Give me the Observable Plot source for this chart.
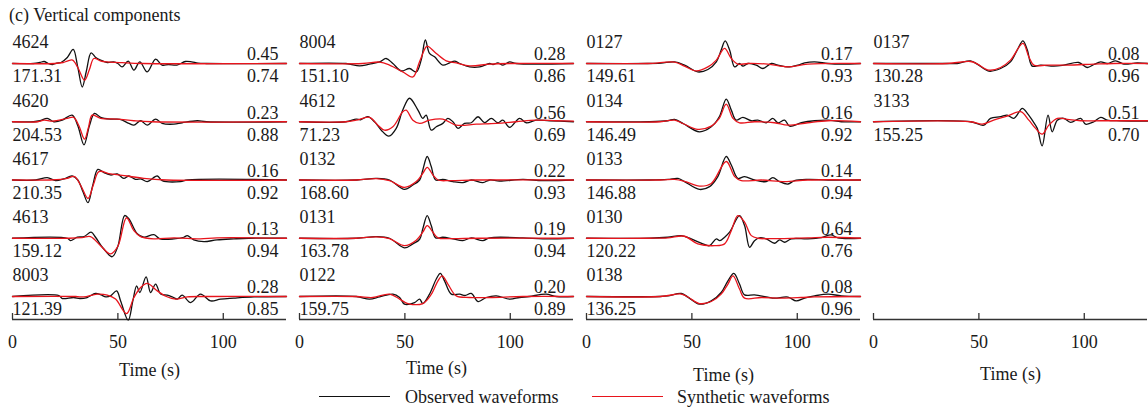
<!DOCTYPE html>
<html><head><meta charset="utf-8">
<script src="https://cdn.jsdelivr.net/npm/d3@7"></script>
<script src="https://cdn.jsdelivr.net/npm/@observablehq/plot@0.6"></script>
<style>
body{margin:0;background:#fff;font-family:"Liberation Serif","Times New Roman",serif;color:#1a1a1a;}
#wrap{position:relative;width:1148px;height:410px;overflow:hidden}
#title{position:absolute;left:9px;top:4px;font-size:18px;line-height:22px;}
#chart{position:absolute;left:0;top:27px;}
#legend{position:absolute;left:0;top:386px;width:1148px;height:22px;font-size:18px;}
.sw{position:absolute;top:10px;width:71px;height:0;border-top:1.3px solid}
.lt{position:absolute;top:0;line-height:22px;white-space:nowrap}
</style></head>
<body>
<div id="wrap">
  <div id="title">(c) Vertical components</div>
  <div id="chart"></div>
  <div id="legend">
    <div class="sw" style="left:319px;border-color:#111"></div>
    <div class="lt" style="left:405px">Observed waveforms</div>
    <div class="sw" style="left:592px;border-color:#e8141c"></div>
    <div class="lt" style="left:677px">Synthetic waveforms</div>
  </div>
</div>
<script>
// ---------- data ----------
const STATIONS  = ["4624","4620","4617","4613","8003","8004","4612","0132","0131","0122","0127","0134","0133","0130","0138","0137","3133"];
const COLUMN    = [0,0,0,0,0, 1,1,1,1,1, 2,2,2,2,2, 3,3];
const ROW       = [0,1,2,3,4, 0,1,2,3,4, 0,1,2,3,4, 0,1];
const DISTANCES = ["171.31","204.53","210.35","159.12","121.39","151.10","71.23","168.60","163.78","159.75","149.61","146.49","146.88","120.22","136.25","130.28","155.25"];
const UPPER     = ["0.45","0.23","0.16","0.13","0.28","0.28","0.56","0.22","0.19","0.20","0.17","0.16","0.14","0.64","0.08","0.08","0.51"];
const LOWER     = ["0.74","0.88","0.92","0.94","0.85","0.86","0.69","0.93","0.94","0.89","0.93","0.92","0.94","0.76","0.96","0.96","0.70"];
const X_TICKS   = [0, 50, 100];
const T_MAX     = 130;

// waveforms: flat [time (s), amplitude, time, amplitude, ...]
const obs4624 = [0,0, 10,0, 13,0.05, 15,0.1, 17,0, 19,-0.05, 21,0.02, 23,0.05, 26,0.3, 28.8,0.7, 31,-0.2, 33.1,-1.17, 35,-0.4, 37.3,0.53, 39.5,0.3, 41.8,0.17, 45,0.05, 48,0.08, 50,0, 52,-0.17, 54.9,0.12, 57.6,-0.33, 60.4,0.08, 63.9,-0.42, 67.9,0.22, 71,-0.08, 74,-0.05, 78,-0.08, 82,0.1, 85,0.08, 88,0.02, 92,0, 130,0];
const syn4624 = [0,0, 20,0, 24,0.05, 26,0.12, 28.5,0.17, 31,-0.2, 34.2,-0.83, 36.5,-0.3, 38.6,0.25, 42,0.12, 45,0.08, 52,0.04, 62,0, 130,0];
const obs4620 = [0,0, 10,0, 13,0.05, 16.5,0.17, 19.6,0, 23.6,0.08, 28.3,0.33, 31,-0.2, 33.9,-1.15, 36.5,-0.2, 38.9,0.42, 41.8,0.22, 46.5,0.13, 51,0.12, 55.2,-0.08, 57.6,-0.17, 60.8,0.05, 63.9,-0.17, 67.9,0.13, 71,-0.08, 76.6,-0.12, 80.5,-0.05, 87.7,0.05, 92,0, 130,0];
const syn4620 = [0,0, 12,0, 15,0.08, 19,0.03, 26,0.17, 29,0.22, 31.5,-0.2, 34.2,-0.87, 36,-0.3, 37.8,0.33, 41.8,0.17, 49.7,0.13, 57.6,0.05, 66,0, 130,0];
const obs4617 = [0,0, 11,0, 16.5,0.12, 20.4,-0.03, 24.3,0.05, 28.3,0.2, 31,0, 33.5,-0.6, 35.8,-1.13, 38,-0.3, 40.5,0.53, 43.4,0.37, 46.5,0.25, 49.7,0.3, 52.8,0.08, 55.2,0.2, 58.4,0.03, 61,0.05, 63.9,-0.08, 68.7,0.2, 71,-0.03, 79.7,-0.08, 83,0, 130,0];
const syn4617 = [0,0, 18,0, 23,0.03, 26,0.08, 29.4,0.17, 32.5,-0.3, 35.8,-0.92, 38.5,-0.2, 41,0.42, 46.5,0.3, 54.4,0.2, 62.3,0.08, 73,0, 130,0];
const obs4613 = [0,0, 26,0, 27.5,-0.12, 30.7,0.05, 33.9,0.08, 37.3,0.3, 39.4,0.05, 43,-0.5, 47.3,-0.92, 50,-0.4, 53.2,1.13, 55.2,0.97, 59.2,0.22, 62.3,0.05, 67.1,0.18, 70,-0.03, 76.6,-0.03, 81.3,0.05, 82.9,0.13, 86,-0.08, 90.8,-0.17, 97,-0.08, 105,-0.03, 112,0, 130,0];
const syn4613 = [0,0, 27,0, 33,0.03, 37,0.08, 41.8,-0.37, 46.5,-0.78, 50,-0.4, 54.1,1.02, 57.6,0.38, 60.8,0.08, 67.1,-0.03, 76.6,0.02, 89,-0.03, 97,0.02, 130,0];
const obs8003 = [0,0, 22,0.05, 23.6,-0.1, 29,-0.05, 32,-0.1, 35.4,-0.05, 39.4,0.15, 42,0.08, 44.3,-0.02, 46.5,0.03, 49.4,0.28, 51.3,-0.22, 54.9,-1.18, 57.1,-0.22, 58.9,0.53, 60.4,0.2, 63.4,0.98, 65.5,0.2, 67.9,0.62, 70.3,0.12, 73.4,0.07, 75.8,-0.02, 78.2,-0.13, 80.5,0.07, 84.5,-0.3, 89.2,0.12, 94,-0.22, 98.7,-0.13, 105,-0.08, 114.6,-0.02, 130,0];
const syn8003 = [0,0, 30,0, 33.8,-0.02, 40.2,0.12, 45,0.07, 48.9,-0.13, 54.1,-0.85, 57.6,-0.05, 60.8,0.45, 63.9,0.65, 68.7,0.28, 73,0, 77.4,-0.13, 82.9,-0.02, 92.4,0, 130,0];
const obs8004 = [0,0, 22,0, 28.5,-0.12, 33.2,-0.03, 38,0.08, 41.1,0.25, 44.3,0, 48.3,-0.37, 52.2,-0.25, 55.4,-0.42, 57.8,0.2, 59.7,1.17, 61.7,0.5, 64.1,0.33, 68,-0.08, 71,0.02, 73.6,0.12, 76,0, 80.7,-0.17, 85.5,-0.17, 90.2,0, 91.8,-0.05, 94.1,0.03, 96.5,-0.08, 99.7,0.08, 102.8,0, 130,0];
const syn8004 = [0,0, 30,0, 38,0.07, 42.7,-0.08, 49,-0.42, 53.8,-0.67, 57,0.1, 60.1,0.83, 61,0.85, 64.9,0.5, 69.6,0.13, 74.4,0.03, 80.7,-0.12, 90.2,-0.03, 100,0, 130,0];
const obs4612 = [0,0, 22,0, 26.9,0.13, 29,0.1, 32.4,0.25, 35.6,0, 38.8,-0.42, 42.4,-0.72, 45.9,-0.33, 49,0.58, 52.2,1.17, 56.2,0.58, 58.5,0.17, 60.1,0.33, 62.5,-0.42, 64.9,-0.25, 68,-0.08, 70.4,0.17, 72.8,0, 75.2,-0.33, 78.3,-0.08, 81.5,-0.05, 84.7,0.25, 87.8,-0.05, 91,0.17, 94.1,-0.05, 96.5,0.08, 99.7,-0.28, 104.4,0.17, 107.6,-0.05, 112.3,0.08, 118.6,0.05, 130,0];
const syn4612 = [0,0, 22,0, 26.9,0.08, 33.2,0.22, 37.2,-0.17, 40.3,-0.42, 44.3,-0.25, 49,0.5, 50.6,0.58, 53.8,0.08, 57,-0.08, 61.7,0.08, 68,0.13, 74.4,-0.17, 83.9,-0.12, 93.4,-0.08, 102.8,0, 112.3,0.08, 121.8,0.05, 130,0.03];
const obs0132 = [0,0, 27,0, 36.4,0.08, 42.7,0, 49.8,-0.47, 53.8,-0.25, 57,0, 58.5,0.5, 60.6,1.17, 62.5,0.67, 64.6,0, 68,0.03, 72.8,-0.08, 77.5,-0.13, 81.5,0, 87,-0.13, 90.2,0, 94.9,-0.05, 106,0.03, 115.5,-0.03, 130,0];
const syn0132 = [0,0, 27,0, 36.4,0.07, 42.7,-0.03, 49.8,-0.37, 55.4,-0.08, 58.5,0.33, 60.6,0.63, 63.3,0.25, 65.7,0, 71.2,-0.03, 83.9,0, 130,0];
const obs0131 = [0,0, 27,0, 36.4,0.08, 42.7,0, 49.8,-0.48, 53.8,-0.28, 57,-0.05, 58.5,0.47, 60.6,1.13, 62.5,0.63, 64.6,0.02, 68,0.05, 72.8,-0.03, 77.5,-0.12, 81.5,0.02, 87,-0.12, 90.2,0.02, 106,0.02, 115.5,-0.03, 130,0];
const syn0131 = [0,0, 27,0, 36.4,0.07, 42.7,-0.02, 49.8,-0.37, 55.4,-0.1, 58.5,0.3, 60.6,0.63, 63.3,0.3, 65.7,0.02, 71.2,-0.02, 85,0, 130,0];
const obs0122 = [0,0, 26.9,0, 33.2,-0.13, 38,-0.02, 44.3,0.12, 47.5,-0.05, 49.8,-0.38, 54.6,-0.3, 57,-0.13, 58.5,-0.35, 61.7,0.12, 64.9,0.87, 66.8,1.15, 68.8,0.78, 72,0.12, 76,0.12, 78.5,0.05, 81.5,0.15, 84.7,-0.25, 88.6,-0.05, 93.4,0.03, 99.7,-0.13, 104.4,-0.05, 109,0, 117,0.12, 121.8,0, 130,0];
const syn0122 = [0,0, 26.9,0, 34.8,-0.05, 42.7,0.12, 47.5,-0.13, 51.4,-0.35, 58.5,-0.35, 62.5,0.1, 65.7,0.78, 67.7,1.03, 70.4,0.62, 74.4,0.03, 80.7,-0.05, 90.2,-0.05, 106,0, 130,0];
const obs0127 = [0,0, 29,0, 35.4,0.02, 41.8,0.08, 46.5,-0.08, 52.8,-0.42, 57.6,-0.3, 61.6,0.08, 63.9,0.67, 65.8,1.13, 67.9,0.67, 70.3,-0.17, 72.6,0, 74.2,-0.13, 76.6,0, 80.5,-0.08, 83.7,-0.25, 87.7,0, 90.8,-0.08, 95.6,-0.17, 100.3,-0.08, 103.5,0.03, 108.2,0.08, 114.6,0, 120.9,-0.03, 130,0];
const syn0127 = [0,0, 29,0, 41.8,0.07, 46.5,-0.13, 52,-0.37, 57.6,-0.17, 61.6,0.17, 65.5,0.75, 68.7,0.25, 71.8,-0.03, 76.6,0, 86,-0.03, 95.6,-0.17, 105,-0.03, 130,0];
const obs0134 = [0,0, 30,0, 38.6,0.05, 41.8,0.12, 46,-0.1, 53.6,-0.5, 59.2,-0.25, 63,0.25, 66.3,1.13, 68.7,0.58, 71,0.08, 74.2,0.22, 78.2,0.05, 81.3,0.08, 85.3,-0.05, 88.4,0.17, 90.8,-0.05, 94,0.08, 96.4,-0.22, 101.9,-0.05, 108.2,0.05, 114.6,0.08, 120.9,0, 130,0];
const syn0134 = [0,0, 35,0, 41.8,0.08, 46,-0.1, 52.8,-0.38, 59.2,-0.22, 63,0.17, 66.3,0.88, 69.5,0.17, 72.6,-0.05, 79.7,0, 89.2,-0.05, 95.6,-0.17, 105,-0.05, 114.6,0.05, 130,0];
const obs0133 = [0,0, 30,0, 38.6,0.03, 43.4,0.08, 46.5,-0.08, 53.6,-0.47, 58.4,-0.33, 62.3,0.17, 66.3,1.17, 68.7,0.75, 71.8,0.08, 75,0.17, 79.7,0, 85.3,-0.08, 88.4,0.12, 91.6,-0.08, 95.6,-0.2, 98.7,-0.03, 105,0.03, 114.6,0, 130,0];
const syn0133 = [0,0, 35,0, 41.8,0.03, 47,-0.08, 53.6,-0.3, 59.2,-0.17, 66.3,0.92, 70.3,0.17, 73.4,-0.03, 83,0, 94,-0.08, 105,0, 130,0];
const obs0130 = [0,0, 30,0, 38.6,0.05, 45,0.13, 49.7,-0.03, 55.2,-0.28, 58.4,-0.37, 61.6,-0.03, 63.2,-0.12, 65.5,0.05, 67.9,0.3, 72.6,1.13, 75,0.63, 77.4,-0.45, 79.7,-0.12, 82.1,0.02, 85.3,-0.03, 89.2,-0.25, 91.6,-0.08, 94,-0.2, 97.2,-0.03, 105,-0.03, 111.4,0.03, 116,0.17, 119.3,0.02, 130,0];
const syn0130 = [0,0, 30,0, 38.6,0.02, 46.5,0.1, 52.8,-0.28, 60.8,-0.37, 65.5,-0.28, 68.7,0.38, 71.8,1.13, 75,0.8, 78.2,0.13, 81.3,0, 89.2,-0.02, 105,0.02, 114.6,0.05, 130,0];
const obs0138 = [0,0, 35,0, 38.6,0.03, 45,0.15, 48.1,-0.03, 53.6,-0.38, 59.2,-0.22, 63.9,0.2, 67.1,0.78, 69.9,1.15, 72.6,0.62, 75,0.08, 79.7,0.08, 86,-0.03, 89.2,-0.08, 95.6,-0.03, 99.5,-0.22, 103.5,-0.08, 108.2,0.03, 114.6,0.12, 120.9,0.03, 130,0];
const syn0138 = [0,0, 35,0, 45,0.12, 48.5,-0.05, 53.6,-0.35, 59.2,-0.25, 63.9,0.12, 67.1,0.62, 69.5,1.03, 72.6,0.37, 75,-0.08, 83,-0.05, 92.4,-0.08, 101.9,-0.05, 108.2,-0.02, 130,0];
const obs0137 = [0,0, 35,0, 39.7,0, 46,0.13, 49.2,-0.03, 54.7,-0.38, 60.3,-0.25, 65,0.08, 68.2,0.67, 70.9,1.13, 73,0.67, 75.3,-0.13, 79.3,-0.08, 85.6,-0.13, 90.3,-0.08, 97.4,0.05, 101.4,-0.2, 104.6,-0.05, 107.8,0.08, 110.9,0, 114.9,0.13, 118.8,-0.03, 125.1,0.03, 130,0];
const syn0137 = [0,0, 35,0, 46,0.1, 49.2,-0.02, 54.7,-0.33, 60.3,-0.2, 65,0.17, 70.9,1.0, 73.7,0.33, 76.1,-0.08, 82.4,-0.08, 91.9,-0.08, 104.6,-0.03, 114,0, 130,0];
const obs3133 = [0,0, 46,0, 52.4,-0.17, 55.5,0.17, 60.3,0.25, 63.4,0.33, 66.6,0.17, 70.6,0.67, 73,0.42, 75.3,0.08, 77.7,-0.33, 80,-1.2, 82.8,0.33, 84.8,-0.5, 87.2,0.08, 90.3,0.17, 93.5,-0.03, 98.3,0.17, 100.6,-0.12, 104.6,0, 107.8,0.22, 110.9,0.08, 117.2,0.05, 130,0.03];
const syn3133 = [0,0, 46,0, 51.6,-0.12, 57,0.08, 63.4,0.28, 69.8,0.5, 73.7,0.08, 76.9,-0.33, 80,-0.62, 83.2,-0.17, 87.2,0.17, 92,0.12, 98.3,0.05, 107.8,0.05, 130,0.05];

const OBSERVED  = [obs4624,obs4620,obs4617,obs4613,obs8003,obs8004,obs4612,obs0132,obs0131,obs0122,obs0127,obs0134,obs0133,obs0130,obs0138,obs0137,obs3133];
const SYNTHETIC = [syn4624,syn4620,syn4617,syn4613,syn8003,syn8004,syn4612,syn0132,syn0131,syn0122,syn0127,syn0134,syn0133,syn0130,syn0138,syn0137,syn3133];

// ---------- layout ----------
const ROW_STEP = 2.9;             // amplitude units between stacked traces
const PX = 58.25 / ROW_STEP;      // pixels per amplitude unit
const HEIGHT = 360, AXIS_PX = 292, FIRST_PX = 36;
const Y_TOP = FIRST_PX / PX;
const Y_AXIS = -(AXIS_PX - FIRST_PX) / PX;
const TIME_LABEL_DY = [51, 49, 56, 55];
const BLACK = "#111", RED = "#e8141c", INK = "#1a1a1a";

// ---------- tables ----------
const stations = STATIONS.map((s, i) => ({station: s, col: COLUMN[i], row: ROW[i], dist: DISTANCES[i], up: UPPER[i], low: LOWER[i]}));
const samples = [];
STATIONS.forEach((s, i) => {
  [["obs", OBSERVED[i]], ["syn", SYNTHETIC[i]]].forEach(([kind, arr]) => {
    for (let k = 0; k < arr.length; k += 2)
      samples.push({station: s, kind, col: COLUMN[i], row: ROW[i], t: arr[k], a: arr[k + 1]});
  });
});
const base = d => -d.row * ROW_STEP;
const yv = d => d.a - d.row * ROW_STEP;

const marks = [
  Plot.ruleY([Y_AXIS], {stroke: "#333", strokeWidth: 1.3}),
  Plot.ruleX(X_TICKS, {x: d => d, y1: Y_AXIS, y2: Y_AXIS, insetTop: -6, stroke: "#333", strokeWidth: 1.3}),
  Plot.axisX({ticks: X_TICKS, tickSize: 0, tickPadding: 16, label: null, fontSize: 18, tickFormat: d => String(d)}),
  Plot.line(samples.filter(d => d.kind === "obs"), {fx: "col", x: "t", y: yv, z: "station", stroke: BLACK, strokeWidth: 1.3, curve: "catmull-rom"}),
  Plot.line(samples.filter(d => d.kind === "syn"), {fx: "col", x: "t", y: yv, z: "station", stroke: RED, strokeWidth: 1.3, curve: "catmull-rom"}),
  Plot.text(stations, {fx: "col", x: () => 0, y: base, dy: -21, text: "station", textAnchor: "start", fontSize: 18, fill: INK}),
  Plot.text(stations, {fx: "col", x: () => 0, y: base, dy: 13, text: "dist", textAnchor: "start", fontSize: 18, fill: INK}),
  Plot.text(stations, {fx: "col", x: () => T_MAX, y: base, dx: -8, dy: -9, text: "up", textAnchor: "end", fontSize: 18, fill: INK}),
  Plot.text(stations, {fx: "col", x: () => T_MAX, y: base, dx: -8, dy: 13, text: "low", textAnchor: "end", fontSize: 18, fill: INK}),
  ...[0, 1, 2, 3].map(c => Plot.text([c], {fx: d => d, x: () => T_MAX / 2, y: () => Y_AXIS, dy: TIME_LABEL_DY[c], text: () => "Time (s)", fontSize: 18, fill: INK}))
];

const chart = Plot.plot({
  width: 1148,
  height: HEIGHT,
  marginLeft: 12,
  marginRight: 0,
  marginTop: 0,
  marginBottom: HEIGHT - AXIS_PX,
  style: {fontFamily: "'Liberation Serif', 'Times New Roman', serif", fontSize: "18px", color: INK, background: "#fff", overflow: "visible"},
  fx: {domain: [0, 1, 2, 3], axis: null, paddingInner: 0.045, paddingOuter: 0, label: null},
  x: {domain: [0, T_MAX], label: null},
  y: {domain: [Y_AXIS, Y_TOP], axis: null},
  marks
});
document.getElementById("chart").appendChild(chart);
</script>
</body></html>
